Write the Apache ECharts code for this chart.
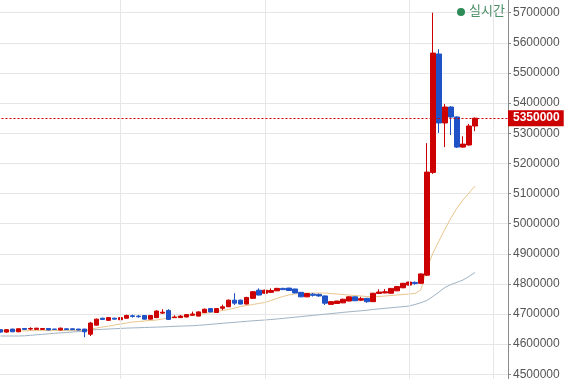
<!DOCTYPE html>
<html>
<head>
<meta charset="utf-8">
<script src="https://cdn.jsdelivr.net/npm/echarts@6/dist/echarts.min.js"></script>
<style>html,body{margin:0;padding:0;background:#fff}#c{width:568px;height:379px}</style>
</head>
<body>
<div id="c"></div>
<script>
const categories = ['1','2','3','4','5','6','7','8','9','10','11','12','13','14','15','16','17','18','19','20',
'21','22','23','24','25','26','27','28','29','30','31','32','33','34','35','36','37','38','39','40',
'41','42','43','44','45','46','47','48','49','50','51','52','53','54','55','56','57','58','59','60',
'61','62','63','64','65','66','67','68','69','70','71','72','73','74','75','76','77','78','79','80',
'81','82','83','84','85'];

const opens = [4648000,4640000,4650000,4641000,4652000,4650000,4649000,4649000,4652000,4650000,
4647000,4651000,4651000,4650000,4650000,4633000,4663000,4686000,4679000,4686000,
4681000,4686000,4694000,4693000,4695000,4683000,4688000,4703000,4712000,4688000,
4688000,4690000,4696000,4693000,4705000,4718000,4705000,4719000,4724000,4746000,
4746000,4733000,4752000,4779000,4769000,4772000,4777000,4785000,4786000,4783000,
4772000,4757000,4766000,4765000,4760000,4732000,4735000,4737000,4743000,4757000,
4746000,4752000,4741000,4768000,4770000,4769000,4777000,4787000,4796000,4805000,
4802000,4829000,5170000,5563000,5334000,5387000,5354000,5254000,5261000,5324000];

const closes = [4640000,4648000,4641000,4651000,4649000,4652000,4653000,4652000,4647000,4649000,
4653000,4648000,4648000,4647000,4641000,4670000,4683000,4682000,4688000,4683000,
4688000,4695000,4692000,4691000,4683000,4695000,4710000,4706000,4682000,4690000,
4693000,4698000,4700000,4707000,4716000,4707000,4718000,4724000,4746000,4736000,
4733000,4755000,4774000,4763000,4779000,4778000,4785000,4781000,4778000,4770000,
4757000,4768000,4762000,4760000,4736000,4741000,4743000,4749000,4757000,4744000,
4751000,4741000,4769000,4773000,4774000,4785000,4791000,4802000,4806000,4801000,
4833000,5171000,5566000,5334000,5387000,5354000,5254000,5264000,5324000,5350000];

const lows = [4638000,4638000,4640000,4640000,4648000,4646000,4648000,4648000,4646000,4648000,
4646000,4647000,4647000,4646000,4623000,4627000,4662000,4681000,4678000,4682000,
4680000,4685000,4688000,4688000,4682000,4682000,4687000,4700000,4681000,4687000,
4687000,4689000,4694000,4692000,4704000,4706000,4704000,4713000,4723000,4730000,
4732000,4732000,4750000,4762000,4768000,4770000,4776000,4780000,4777000,4769000,
4756000,4756000,4758000,4757000,4730000,4731000,4734000,4736000,4742000,4743000,
4743000,4737000,4740000,4767000,4769000,4768000,4776000,4786000,4795000,4797000,
4801000,4826000,5165000,5301000,5254000,5294000,5251000,5252000,5259000,5307000];

const highs = [4650000,4650000,4651000,4652000,4653000,4656000,4654000,4653000,4653000,4651000,
4655000,4652000,4652000,4651000,4651000,4674000,4685000,4688000,4690000,4688000,
4690000,4698000,4698000,4697000,4696000,4696000,4712000,4716000,4716000,4696000,
4697000,4700000,4708000,4709000,4718000,4719000,4720000,4731000,4748000,4769000,
4748000,4757000,4776000,4785000,4781000,4785000,4787000,4787000,4787000,4784000,
4773000,4769000,4770000,4768000,4761000,4742000,4744000,4751000,4758000,4758000,
4757000,4753000,4770000,4782000,4783000,4786000,4792000,4803000,4807000,4808000,
4835000,5267000,5700000,5579000,5397000,5390000,5356000,5290000,5331000,5352000];

const maShort = [4644000,4644000,4644000,4644000,4644000,4645000,4645000,4645000,4645000,4645000,
4645000,4645000,4645000,4645000,4645000,4650000,4653500,4657000,4660000,4663500,
4667000,4670000,4673500,4675000,4677000,4678500,4680000,4683500,4687000,4688500,
4692000,4693500,4697000,4698500,4702000,4705000,4708500,4712000,4715000,4720000,
4725000,4728200,4731600,4735000,4738200,4744800,4751500,4758100,4763100,4766400,
4768000,4769700,4769700,4769700,4769700,4768000,4766400,4764700,4763100,4761400,
4759700,4758100,4756400,4758100,4759700,4761400,4763100,4764700,4766400,4768000,
4779700,4852000,4902000,4942000,4982000,5018600,5051800,5078400,5101600,5124800];

const maLong = [4627000,4627000,4627000,4627000,4627700,4629300,4631000,4632600,4634300,4636000,
4637300,4638600,4640300,4641600,4643000,4647000,4648200,4649200,4650200,4651200,
4652200,4653200,4653900,4654500,4655200,4655900,4656500,4657200,4658200,4659200,
4659900,4660500,4661200,4662500,4664200,4665800,4667500,4669200,4670800,4672500,
4674100,4675800,4677400,4678800,4680100,4681800,4683400,4685400,4687400,4689400,
4691400,4693400,4695400,4697300,4699300,4701300,4703300,4705300,4707300,4709000,
4710600,4712600,4715000,4717000,4719000,4720600,4722600,4724200,4726500,4731500,
4737500,4745100,4758100,4773000,4788000,4798000,4805000,4812900,4824500,4837800];

const yMin = 4400000, yMax = 5800000, yStep = 100000;
const currentPrice = 5350000;
const gridCategories = ['21','45','69','83'];
const legendText = '실시간';

const candleData = opens.map((o, i) => [o, closes[i], lows[i], highs[i]]);

const chart = echarts.init(document.getElementById('c'), null, {renderer: 'canvas'});
chart.setOption({
  animation: false,
  backgroundColor: '#ffffff',
  grid: {left: -2.5, right: 60, top: -17.4, bottom: -25.4, containLabel: false, outerBoundsMode: 'none'},
  xAxis: {
    type: 'category', data: categories, boundaryGap: true,
    axisLine: {show: false}, axisTick: {show: false}, axisLabel: {show: false},
    splitLine: {show: false}
  },
  yAxis: {
    type: 'value', position: 'right', min: yMin, max: yMax, interval: yStep, scale: true,
    axisLine: {show: true, lineStyle: {color: '#8a8a8a', width: 1}},
    axisTick: {show: true, length: 3, lineStyle: {color: '#8a8a8a'}},
    axisLabel: {
      color: '#555', fontSize: 12, margin: 5,
      fontFamily: '"Liberation Sans", Arial, sans-serif',
      formatter: v => String(v)
    },
    splitLine: {show: true, lineStyle: {color: '#e6e6e6', width: 1}}
  },
  series: [
    {
      name: 'grid', type: 'line', data: [], z: 0, silent: true,
      markLine: {
        silent: true, symbol: ['none', 'none'], animation: false,
        label: {show: false},
        lineStyle: {color: '#e6e6e6', width: 1, type: 'solid'},
        data: gridCategories.map(c => ({xAxis: c}))
      }
    },
    {
      name: 'MA2', type: 'line', data: maLong, z: 1, showSymbol: false, symbol: 'none',
      lineStyle: {color: '#9fb3c4', width: 1}
    },
    {
      name: 'MA1', type: 'line', data: maShort, z: 2, showSymbol: false, symbol: 'none',
      lineStyle: {color: '#e8c68c', width: 1}
    },
    {
      name: 'price', type: 'candlestick', data: candleData, z: 3, barWidth: 5,
      itemStyle: {color: '#cc0000', color0: '#1f52c6', borderColor: '#cc0000', borderColor0: '#1f52c6', borderWidth: 1},
      markLine: {
        silent: true, symbol: ['none', 'none'], animation: false,
        lineStyle: {color: '#cc0000', width: 1, type: [2, 2]},
        label: {
          show: true, position: 'end', distance: 0,
          backgroundColor: '#cc0000', color: '#ffffff', fontWeight: 'bold',
          fontSize: 12, fontFamily: '"Liberation Sans", Arial, sans-serif',
          padding: [2, 4, 2, 5],
          formatter: p => String(p.value)
        },
        data: [{yAxis: currentPrice}]
      }
    }
  ],
  graphic: [
    {type: 'circle', shape: {cx: 461, cy: 12, r: 4}, style: {fill: '#2e8b57'}, z: 10},
    {type: 'text', left: 469, top: 4, z: 10,
     style: {text: legendText, fill: '#4a8f66', fontSize: 13, fontFamily: '"Noto Sans CJK KR", sans-serif'}}
  ]
});
</script>
</body>
</html>
